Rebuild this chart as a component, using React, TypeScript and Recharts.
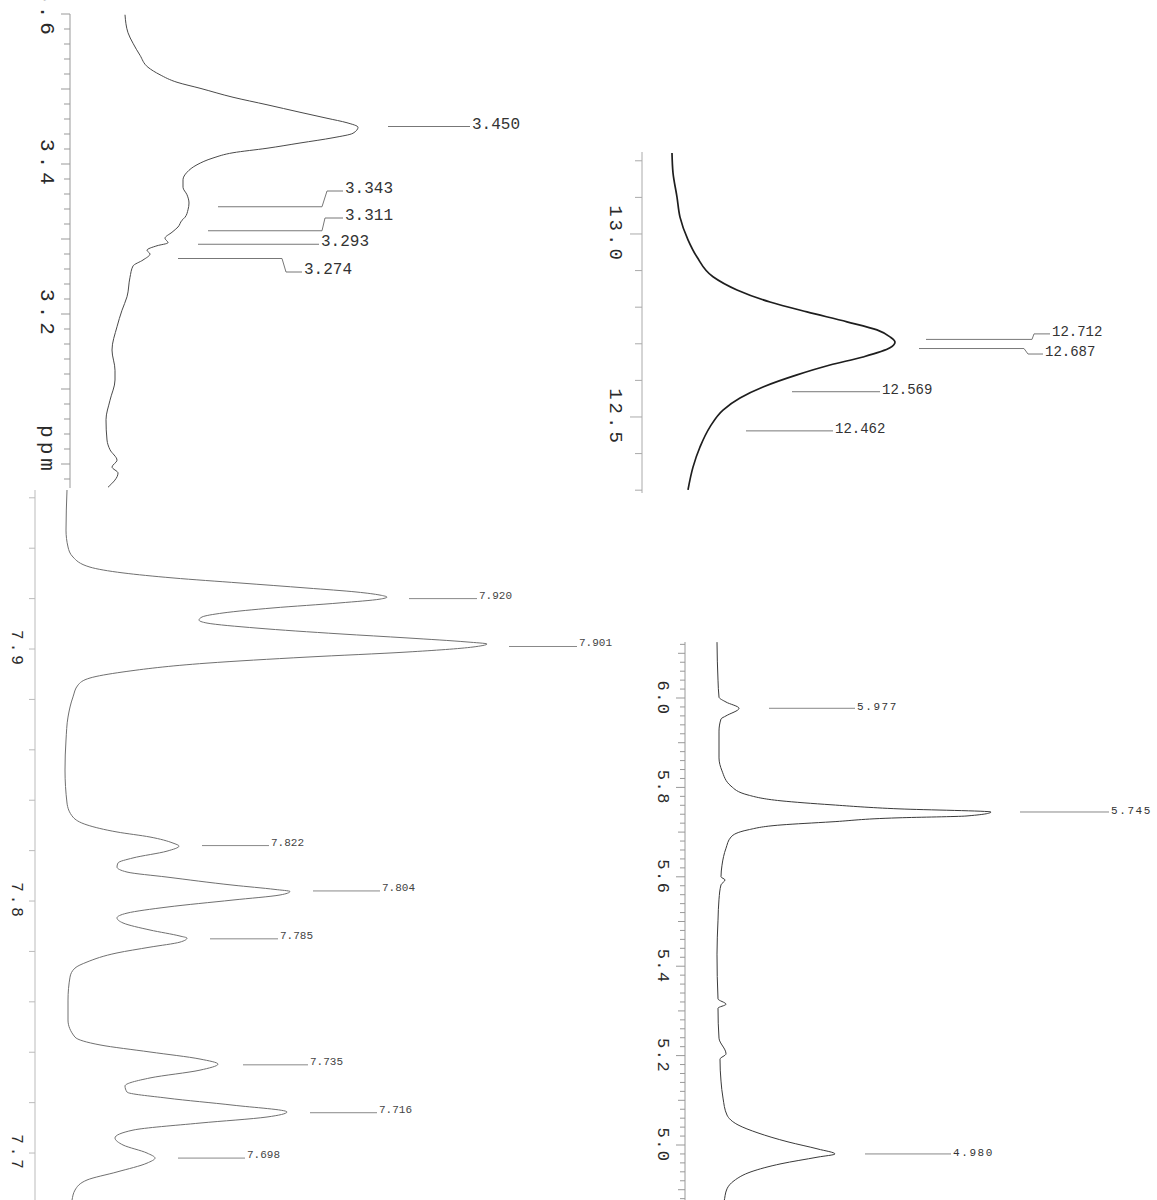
import React from 'react';
import { LineChart, Line, XAxis, YAxis, ReferenceLine } from 'recharts';

// ---------- Panel A : 3.0 - 3.6 ppm ----------
const A_PPM = [3.599, 3.575, 3.561, 3.545, 3.529, 3.519, 3.509, 3.501, 3.489, 3.479, 3.469, 3.461, 3.455, 3.449, 3.441, 3.435, 3.428, 3.421, 3.415, 3.408, 3.399, 3.389, 3.379, 3.369, 3.359, 3.348, 3.339, 3.329, 3.325, 3.316, 3.309, 3.301, 3.295, 3.291, 3.285, 3.28, 3.272, 3.264, 3.249, 3.223, 3.205, 3.183, 3.152, 3.125, 3.112, 3.085, 3.059, 3.032, 3.019, 3.005, 2.996, 2.988, 2.969];
const A_INT = [55, 58, 63, 70, 78, 90, 107, 130, 163, 197, 230, 257, 277, 288, 283, 263, 230, 197, 163, 143, 127, 117, 113, 113, 117, 119, 118, 115, 112, 108, 102, 95, 98, 87, 77, 80, 73, 63, 60, 57, 52, 47, 42, 45, 45, 40, 36, 37, 40, 47, 42, 48, 38];
const A_TICKS = [3.6, 3.58, 3.56, 3.54, 3.52, 3.5, 3.48, 3.46, 3.44, 3.42, 3.4, 3.38, 3.36, 3.34, 3.32, 3.3, 3.28, 3.26, 3.24, 3.22, 3.2, 3.18, 3.16, 3.14, 3.12, 3.1, 3.08, 3.06, 3.04, 3.02, 3.0, 2.98];
const A_TICK_LABELS = ['3.6', '3.4', '3.2'];
const A_PEAKS = [3.45, 3.343, 3.311, 3.293, 3.274];

// ---------- Panel B : 12.3 - 13.2 ppm ----------
const B_PPM = [13.221, 13.167, 13.101, 13.046, 12.984, 12.937, 12.883, 12.847, 12.814, 12.787, 12.76, 12.738, 12.719, 12.705, 12.689, 12.664, 12.642, 12.615, 12.582, 12.552, 12.519, 12.473, 12.418, 12.363, 12.301];
const B_INT = [30, 31, 35, 38, 46, 55, 71, 95, 128, 165, 205, 235, 248, 253, 248, 221, 188, 155, 121, 98, 81, 68, 58, 51, 46];
const B_TICKS = [13.2, 13.1, 13.0, 12.9, 12.8, 12.7, 12.6, 12.5, 12.4, 12.3];
const B_TICK_LABELS = ['13.0', '12.5'];
const B_PEAKS = [12.712, 12.687, 12.569, 12.462];

// ---------- Panel C : 7.68 - 7.96 ppm ----------
const C_PPM = [7.9631, 7.9472, 7.9405, 7.9365, 7.9325, 7.9302, 7.9282, 7.9262, 7.9242, 7.9226,
  7.9214, 7.9206, 7.9198, 7.9183, 7.9163, 7.9143, 7.9127, 7.9115, 7.9103, 7.9083,
  7.906, 7.9044, 7.9028, 7.902, 7.9008, 7.8988, 7.8968, 7.8944, 7.8909, 7.8885,
  7.8857, 7.881, 7.873, 7.8639, 7.852, 7.8389, 7.8333, 7.8302, 7.8274, 7.8254,
  7.823, 7.8218, 7.8198, 7.8171, 7.8151, 7.8135, 7.8115, 7.8095, 7.8063, 7.8046,
  7.8038, 7.8024, 7.8004, 7.7976, 7.7952, 7.7933, 7.7913, 7.7885, 7.7861, 7.7853,
  7.7837, 7.7817, 7.7794, 7.7758, 7.7734, 7.7698, 7.7607, 7.7528, 7.746, 7.7429,
  7.7401, 7.7373, 7.7353, 7.7329, 7.7298, 7.7266, 7.7242, 7.7218, 7.719, 7.7163,
  7.7143, 7.7119, 7.7091, 7.706, 7.7032, 7.7, 7.698, 7.696, 7.6925, 7.6893,
  7.6853, 7.6813, 7.6774];
const C_INT = [32, 31, 33, 38, 55, 88, 138, 205, 272, 322,
  345, 352, 345, 305, 238, 188, 167, 164, 172, 222,
  305, 372, 432, 452, 438, 372, 272, 172, 88, 55,
  43, 38, 33, 31, 30, 32, 38, 52, 82, 115,
  138, 144, 132, 98, 83, 82, 92, 132, 198, 240,
  255, 245, 198, 132, 92, 82, 88, 115, 145, 152,
  145, 115, 82, 52, 40, 35, 33, 33, 40, 65,
  115, 165, 183, 165, 115, 90, 92, 132, 198, 252,
  232, 165, 98, 80, 88, 112, 120, 112, 82, 52,
  40, 37, 36];
const C_TICKS = [7.96, 7.94, 7.92, 7.9, 7.88, 7.86, 7.84, 7.82, 7.8, 7.78, 7.76, 7.74, 7.72, 7.7, 7.68];
const C_TICK_LABELS = ['7.9', '7.8', '7.7'];
const C_PEAKS = [7.92, 7.901, 7.822, 7.804, 7.785, 7.735, 7.716, 7.698];

// ---------- Panel D : 4.86 - 6.12 ppm ----------
const D_PPM = [6.125, 6.04, 6.002, 5.991, 5.977, 5.96, 5.953, 5.926, 5.866, 5.837,
  5.803, 5.783, 5.77, 5.761, 5.752, 5.745, 5.736, 5.732, 5.723, 5.716,
  5.705, 5.689, 5.664, 5.626, 5.6, 5.593, 5.582, 5.55, 5.503, 5.427,
  5.327, 5.315, 5.306, 5.239, 5.204, 5.192, 5.143, 5.105, 5.067, 5.045,
  5.027, 5.007, 4.991, 4.98, 4.973, 4.958, 4.94, 4.92, 4.902, 4.873, 4.855];
const D_INT = [32, 33, 34, 41, 54, 41, 36, 34, 34, 37,
  46, 63, 96, 147, 214, 306, 281, 214, 147, 96,
  63, 46, 41, 37, 36, 40, 36, 34, 33, 32,
  33, 41, 33, 34, 41, 35, 36, 38, 42, 53,
  73, 103, 133, 150, 133, 96, 66, 49, 42, 39, 37];
const D_TICKS = [6.12, 6.1, 6.08, 6.06, 6.04, 6.02, 6.0, 5.98, 5.96, 5.94, 5.92, 5.9, 5.88, 5.86, 5.84, 5.82, 5.8, 5.78, 5.76, 5.74, 5.72, 5.7, 5.68, 5.66, 5.64, 5.62, 5.6, 5.58, 5.56, 5.54, 5.52, 5.5, 5.48, 5.46, 5.44, 5.42, 5.4, 5.38, 5.36, 5.34, 5.32, 5.3, 5.28, 5.26, 5.24, 5.22, 5.2, 5.18, 5.16, 5.14, 5.12, 5.1, 5.08, 5.06, 5.04, 5.02, 5.0, 4.98, 4.96, 4.94, 4.92, 4.9, 4.88, 4.86];
const D_TICK_LABELS = ['6.0', '5.8', '5.6', '5.4', '5.2', '5.0'];
const D_PEAKS = [5.977, 5.745, 4.98];

// ---------- leader-line layout (intensity units), same order as peaks ----------
type Leader = { from: number; to: number; bendX?: number; bendPpm?: number; end?: number };
const A_LEADERS: Leader[] = [
  { from: 318, to: 400 },
  { from: 148, to: 252, bendX: 257, bendPpm: 3.364, end: 273 },
  { from: 138, to: 252, bendX: 255, bendPpm: 3.328, end: 273 },
  { from: 128, to: 249 },
  { from: 108, to: 212, bendX: 216, bendPpm: 3.256, end: 232 },
];
const B_LEADERS: Leader[] = [
  { from: 284, to: 390, bendX: 392, bendPpm: 12.727, end: 408 },
  { from: 277, to: 382, bendX: 386, bendPpm: 12.672, end: 401 },
  { from: 150, to: 238 },
  { from: 104, to: 191 },
];
const C_LEADERS: Leader[] = [
  { from: 374, to: 442 },
  { from: 474, to: 542 },
  { from: 167, to: 234 },
  { from: 278, to: 345 },
  { from: 175, to: 243 },
  { from: 208, to: 273 },
  { from: 275, to: 342 },
  { from: 143, to: 210 },
];
const D_LEADERS: Leader[] = [
  { from: 84, to: 170 },
  { from: 335, to: 424 },
  { from: 180, to: 266 },
];

const MONO = "'Liberation Mono', 'DejaVu Sans Mono', monospace";

type PanelProps = {
  ppm: number[];
  intensity: number[];
  left: number;
  top: number;
  width: number;
  height: number;
  marginTop: number;
  axisWidth: number;
  xMax: number;
  domain: [number, number];
  ticks: number[];
  tickLabels: string[];
  tickLen: (v: number, labeled: boolean) => number;
  labelOffset: number;
  labelFont: number;
  labelSpacing: number;
  peaks: number[];
  leaders: Leader[];
  peakFont: number;
  peakSpacing: number;
  peakDy: number;
  curveColor: string;
  curveWidth: number;
  leaderColor: string;
  axisColor: string;
  textColor: string;
};

function isMult(v: number, step: number) {
  const r = v / step;
  return Math.abs(r - Math.round(r)) < 1e-6;
}

function Panel(p: PanelProps) {
  const data = p.ppm.map((v, i) => ({ ppm: v, int: p.intensity[i] }));

  const renderTick = (tp: any) => {
    const { x, y, payload } = tp;
    const v = payload.value as number;
    const lab = p.tickLabels.find((s) => Math.abs(parseFloat(s) - v) < 1e-6);
    const len = p.tickLen(v, !!lab);
    const lx = x - p.labelOffset;
    return (
      <g>
        <line x1={x - len} x2={x} y1={y} y2={y} stroke={p.axisColor} strokeWidth={1} />
        {lab ? (
          <text
            x={lx}
            y={y}
            transform={`rotate(90 ${lx} ${y})`}
            textAnchor="middle"
            dominantBaseline="central"
            fontFamily={MONO}
            fontSize={p.labelFont}
            letterSpacing={p.labelSpacing}
            fill="#2a2a2a"
          >
            {lab}
          </text>
        ) : null}
      </g>
    );
  };

  const makeLabel = (text: string) => (lp: any) => {
    const vb = lp.viewBox || {};
    const x = (vb.x ?? 0) + (vb.width ?? 0) + 2;
    const y = (vb.y ?? 0) + (vb.height ?? 0) / 2 + p.peakDy;
    return (
      <text
        x={x}
        y={y}
        dominantBaseline="central"
        fontFamily={MONO}
        fontSize={p.peakFont}
        letterSpacing={p.peakSpacing}
        fill={p.textColor}
      >
        {text}
      </text>
    );
  };

  const refLines: React.ReactNode[] = [];
  p.peaks.forEach((pk, i) => {
    const L = p.leaders[i];
    const text = pk.toFixed(3);
    const common = { stroke: p.leaderColor, strokeWidth: 1, ifOverflow: 'visible' as const };
    if (L.bendX !== undefined && L.bendPpm !== undefined && L.end !== undefined) {
      refLines.push(
        <ReferenceLine key={`s1-${i}`} {...common} segment={[{ x: L.from, y: pk }, { x: L.to, y: pk }]} />
      );
      refLines.push(
        <ReferenceLine key={`s2-${i}`} {...common} segment={[{ x: L.to, y: pk }, { x: L.bendX, y: L.bendPpm }]} />
      );
      refLines.push(
        <ReferenceLine
          key={`s3-${i}`}
          {...common}
          segment={[{ x: L.bendX, y: L.bendPpm }, { x: L.end, y: L.bendPpm }]}
          label={makeLabel(text)}
        />
      );
    } else {
      refLines.push(
        <ReferenceLine
          key={`s1-${i}`}
          {...common}
          segment={[{ x: L.from, y: pk }, { x: L.to, y: pk }]}
          label={makeLabel(text)}
        />
      );
    }
  });

  return (
    <div style={{ position: 'absolute', left: p.left, top: p.top }}>
      <LineChart
        width={p.width}
        height={p.height}
        layout="vertical"
        data={data}
        margin={{ top: p.marginTop, right: 0, bottom: 0, left: 0 }}
      >
        <XAxis type="number" dataKey="int" domain={[0, p.xMax]} hide allowDataOverflow />
        <YAxis
          type="number"
          dataKey="ppm"
          domain={p.domain}
          reversed
          allowDataOverflow
          width={p.axisWidth}
          ticks={p.ticks}
          interval={0}
          tickSize={0}
          tickMargin={0}
          tickLine={false}
          axisLine={{ stroke: p.axisColor, strokeWidth: 1 }}
          tick={renderTick}
        />
        <Line
          type="monotone"
          dataKey="int"
          stroke={p.curveColor}
          strokeWidth={p.curveWidth}
          dot={false}
          activeDot={false}
          isAnimationActive={false}
        />
        {refLines}
      </LineChart>
    </div>
  );
}

export default function App() {
  return (
    <div
      style={{
        position: 'absolute',
        left: 0,
        top: 0,
        width: 1157,
        height: 1200,
        overflow: 'hidden',
        background: '#ffffff',
      }}
    >
      <Panel
        ppm={A_PPM}
        intensity={A_INT}
        left={0}
        top={0}
        width={570}
        height={488}
        marginTop={14}
        axisWidth={70}
        xMax={500}
        domain={[2.968, 3.6]}
        ticks={A_TICKS}
        tickLabels={A_TICK_LABELS}
        tickLen={(v) => (isMult(v, 0.1) ? 9 : 6)}
        labelOffset={24}
        labelFont={21}
        labelSpacing={4}
        peaks={A_PEAKS}
        leaders={A_LEADERS}
        peakFont={16}
        peakSpacing={0}
        peakDy={-2}
        curveColor="#4a4a4a"
        curveWidth={1}
        leaderColor="#777"
        axisColor="#999"
        textColor="#333"
      />
      <svg style={{ position: 'absolute', left: 0, top: 400 }} width={70} height={90}>
        <text
          x={46}
          y={50}
          transform="rotate(90 46 50)"
          textAnchor="middle"
          dominantBaseline="central"
          fontFamily={MONO}
          fontSize={21}
          letterSpacing={4}
          fill="#2a2a2a"
        >
          ppm
        </text>
      </svg>
      <Panel
        ppm={B_PPM}
        intensity={B_INT}
        left={582}
        top={140}
        width={575}
        height={353}
        marginTop={12}
        axisWidth={60}
        xMax={515}
        domain={[12.2923, 13.224]}
        ticks={B_TICKS}
        tickLabels={B_TICK_LABELS}
        tickLen={(_v, lab) => (lab ? 12 : 7)}
        labelOffset={27}
        labelFont={19}
        labelSpacing={3}
        peaks={B_PEAKS}
        leaders={B_LEADERS}
        peakFont={14}
        peakSpacing={0}
        peakDy={-2}
        curveColor="#1e1e1e"
        curveWidth={1.7}
        leaderColor="#777"
        axisColor="#aaa"
        textColor="#333"
      />
      <Panel
        ppm={C_PPM}
        intensity={C_INT}
        left={0}
        top={480}
        width={635}
        height={730}
        marginTop={10}
        axisWidth={35}
        xMax={600}
        domain={[7.6774, 7.9631]}
        ticks={C_TICKS}
        tickLabels={C_TICK_LABELS}
        tickLen={() => 6}
        labelOffset={19}
        labelFont={16}
        labelSpacing={3}
        peaks={C_PEAKS}
        leaders={C_LEADERS}
        peakFont={11}
        peakSpacing={0}
        peakDy={-3}
        curveColor="#707070"
        curveWidth={1}
        leaderColor="#888"
        axisColor="#bbb"
        textColor="#444"
      />
      <Panel
        ppm={D_PPM}
        intensity={D_INT}
        left={635}
        top={630}
        width={522}
        height={580}
        marginTop={12}
        axisWidth={50}
        xMax={472}
        domain={[4.8546, 6.1253]}
        ticks={D_TICKS}
        tickLabels={D_TICK_LABELS}
        tickLen={(v, lab) => (lab ? 9 : isMult(v, 0.1) ? 7 : 5)}
        labelOffset={23}
        labelFont={17}
        labelSpacing={1.5}
        peaks={D_PEAKS}
        leaders={D_LEADERS}
        peakFont={11}
        peakSpacing={1.6}
        peakDy={-1}
        curveColor="#3a3a3a"
        curveWidth={1}
        leaderColor="#888"
        axisColor="#999"
        textColor="#333"
      />
    </div>
  );
}
